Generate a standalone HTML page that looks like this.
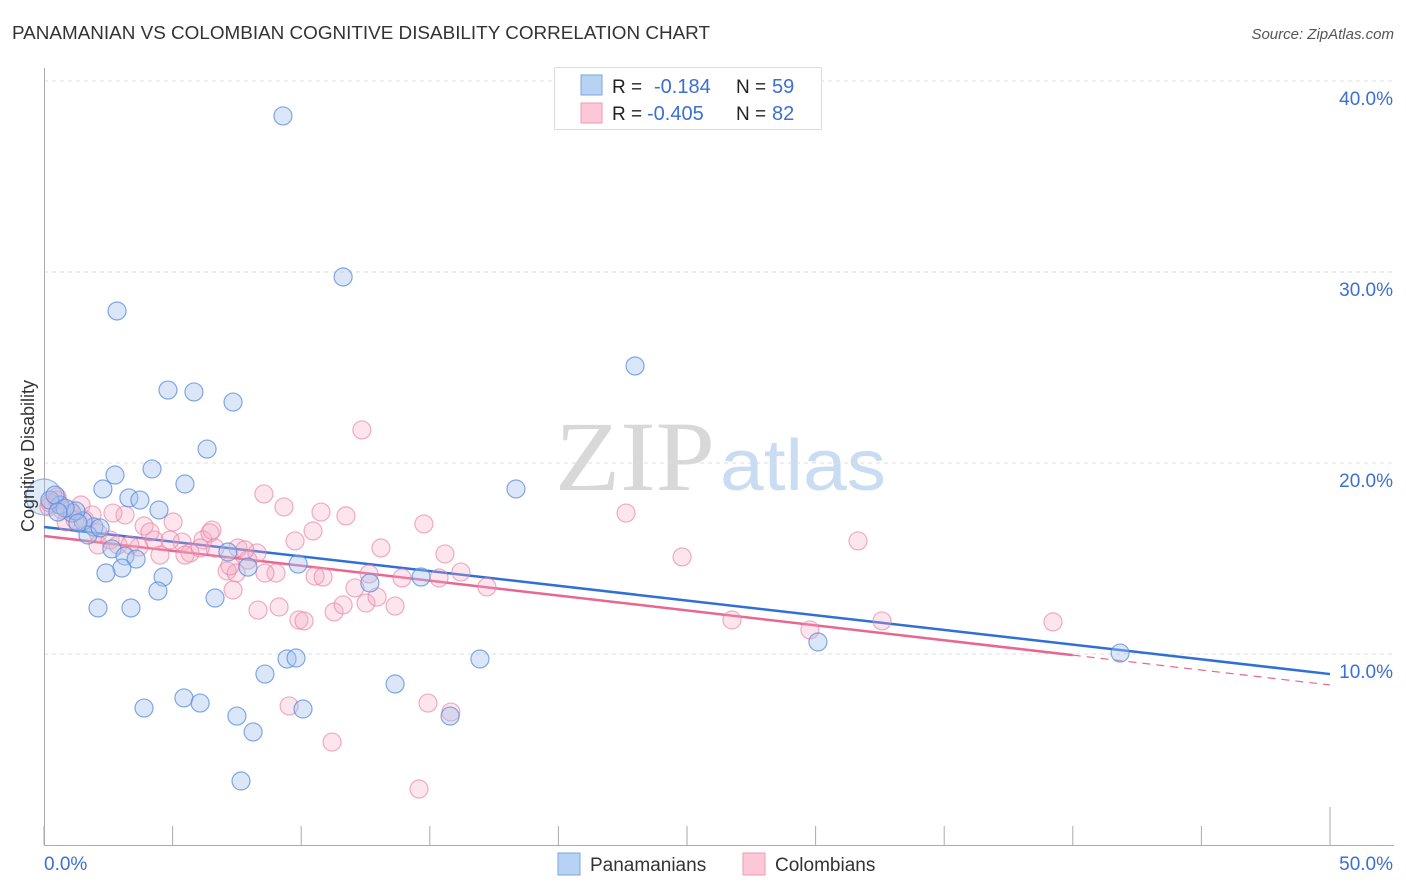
<!DOCTYPE html>
<html><head><meta charset="utf-8"><style>
body{margin:0;background:#fff;font-family:"Liberation Sans",sans-serif}
svg{display:block}
</style></head><body>
<svg id="chart" width="1406" height="892" viewBox="0 0 1406 892" xmlns="http://www.w3.org/2000/svg">
<text x="12" y="39" font-size="18" fill="#333" textLength="698" lengthAdjust="spacingAndGlyphs">PANAMANIAN VS COLOMBIAN COGNITIVE DISABILITY CORRELATION CHART</text>
<text x="1394" y="39" font-size="15" fill="#555" text-anchor="end" font-style="italic">Source: ZipAtlas.com</text>
<g>
<text x="715" y="490" font-size="100" fill="#d8d8d8" text-anchor="end" font-family="Liberation Serif,serif" textLength="160" lengthAdjust="spacingAndGlyphs">ZIP</text>
<text x="720" y="490" font-size="72" fill="#c9dcf2" textLength="166" lengthAdjust="spacingAndGlyphs">atlas</text>
</g>
<g id="grid"></g>
<g id="axes"></g>
<g id="trend"></g>
<g id="pts"></g>
<text transform="translate(34,456) rotate(-90)" font-size="18" fill="#333" text-anchor="middle">Cognitive Disability</text>
<g>
<rect x="554.5" y="67.5" width="267" height="62" fill="#fff" stroke="#ddd"/>
<rect x="581" y="75" width="21" height="20" fill="#b8d2f4" stroke="#7aa6e6"/>
<rect x="581" y="103" width="21" height="20" fill="#fcc8d8" stroke="#f09ab4"/>
<text x="612" y="93" font-size="19" fill="#222">R =</text>
<text x="654" y="93" font-size="20" fill="#3b6fd4">-0.184</text>
<text x="736" y="93" font-size="19" fill="#222">N =</text>
<text x="772" y="93" font-size="20" fill="#3b6fd4">59</text>
<text x="612" y="120" font-size="19" fill="#222">R =</text>
<text x="647" y="120" font-size="20" fill="#3b6fd4">-0.405</text>
<text x="736" y="120" font-size="19" fill="#222">N =</text>
<text x="772" y="120" font-size="20" fill="#3b6fd4">82</text>
</g>
<g>
<rect x="558" y="853" width="22" height="22" fill="#b8d2f4" stroke="#7aa6e6"/>
<text x="590" y="871" font-size="19" fill="#333">Panamanians</text>
<rect x="743" y="853" width="22" height="22" fill="#fcc8d8" stroke="#f09ab4"/>
<text x="775" y="871" font-size="19" fill="#333">Colombians</text>
</g>
</svg>
<script>
const blueX=[9.29,11.63,2.84,22.98,4.82,5.83,7.35,6.34,4.20,2.76,5.48,2.29,3.30,3.73,18.35,4.47,1.94,1.52,1.09,0.62,0.23,0.43,1.71,2.64,3.15,3.58,3.03,2.41,4.63,7.15,4.43,6.65,9.88,7.93,2.10,3.38,12.67,14.66,8.59,9.45,9.80,16.95,13.65,5.44,6.07,3.89,7.50,10.07,8.13,15.79,7.66,30.09,41.84,1.24,0.82,0.54,1.32,2.18];
const blueY=[38.17,29.74,27.96,25.08,23.82,23.72,23.19,20.73,19.69,19.37,18.90,18.64,18.17,18.06,18.64,17.54,16.65,16.96,17.38,17.80,18.06,18.32,16.23,15.50,15.13,14.97,14.50,14.24,14.03,15.34,13.30,12.93,14.71,14.55,12.41,12.41,13.72,14.03,8.95,9.74,9.79,9.74,8.43,7.70,7.43,7.17,6.75,7.12,5.92,6.75,3.35,10.63,10.05,17.49,17.64,17.43,16.86,16.60];
const bigX=[0], bigY=[18.22];
const pinkX=[12.36,8.55,9.33,10.77,11.74,14.77,22.63,1.44,1.01,0.51,0.19,0.86,2.10,3.15,3.89,4.28,5.02,5.37,6.18,6.45,7.54,7.93,8.28,9.76,10.46,13.10,15.59,24.81,31.65,5.68,7.12,7.47,9.02,10.54,10.85,12.64,13.92,15.36,16.21,17.22,7.35,8.32,9.14,9.91,10.11,11.28,11.63,12.09,12.52,12.95,13.65,26.75,29.78,32.58,39.23,9.53,14.93,15.82,11.20,14.58,2.10,2.57,2.88,3.69,4.51,2.68,1.21,1.59,0.51,0.23,5.48,6.65,7.23,6.07,4.90,8.59,3.34,1.87,0.70,7.81,4.12,6.53];
const pinkY=[21.73,18.38,17.70,17.43,17.23,16.81,17.38,17.80,17.54,18.22,17.70,16.91,16.34,17.28,16.70,15.97,16.91,15.86,15.97,16.34,15.55,14.92,15.29,15.92,16.44,15.55,15.24,15.08,15.92,15.29,14.35,14.24,14.24,14.08,14.03,14.19,13.98,13.98,14.29,13.51,13.35,12.30,12.46,11.78,11.73,12.20,12.57,13.46,12.67,12.98,12.51,11.78,11.26,11.73,11.68,7.28,7.43,6.96,5.39,2.93,15.71,15.97,15.71,15.60,15.18,17.38,17.02,17.02,18.06,17.91,15.18,15.55,14.61,15.55,15.97,14.24,15.71,17.28,17.54,15.45,16.39,16.49];
const blueTrend=[16.65,8.95];
const pinkTrend=[16.18,8.38];
const yTicks=[10,20,30,40];
const yTickLabels=["10.0%","20.0%","30.0%","40.0%"];
const xTicks=[0,5,10,15,20,25,30,35,40,45,50];

const NS="http://www.w3.org/2000/svg";
const X=v=>44+v*25.72, Y=v=>845-v*19.1;
function mk(tag,attrs,parent){const e=document.createElementNS(NS,tag);for(const k in attrs)e.setAttribute(k,attrs[k]);parent.appendChild(e);return e;}
const grid=document.getElementById('grid'),axes=document.getElementById('axes'),trend=document.getElementById('trend'),pts=document.getElementById('pts');
yTicks.forEach((t,i)=>{
  const l=mk('line',{x1:44,x2:1394,y1:Y(t),y2:Y(t),stroke:'#ddd','stroke-dasharray':'4,4'},grid);
  
  
  const tx=mk('text',{x:1393,y:Y(t)+24,'font-size':19,fill:'#3b6fd4','text-anchor':'end'},axes);
  tx.textContent=yTickLabels[i];
  
  
});
mk('line',{x1:44.5,x2:44.5,y1:68,y2:845,stroke:'#aaa'},axes);
mk('line',{x1:44,x2:1394,y1:845.5,y2:845.5,stroke:'#aaa'},axes);
xTicks.forEach((t,i)=>{
  const top=(i===xTicks.length-1)?807:826;
  const l=mk('line',{x1:X(t),x2:X(t),y1:top,y2:845,stroke:'#aaa'},axes);
  
  
});
const x0=mk('text',{x:44,y:870,'font-size':19,fill:'#3b6fd4'},axes);x0.textContent='0.0%';


const x1=mk('text',{x:1393,y:870,'font-size':19,fill:'#3b6fd4','text-anchor':'end'},axes);x1.textContent='50.0%';



function drawPts(xs,ys,fill,stroke,r,name){
  xs.forEach((x,i)=>{
    const c=mk('circle',{cx:X(x),cy:Y(ys[i]),r:r,fill:fill,stroke:stroke,'stroke-width':1.2},pts);
    
    
  });
}
drawPts(bigX,bigY,'rgba(164,196,238,0.35)','rgba(106,155,224,0.7)',18,'panamanian-point-large');
drawPts(pinkX,pinkY,'rgba(246,170,194,0.3)','rgba(232,130,165,0.65)',9,'colombian-point');
drawPts(blueX,blueY,'rgba(164,196,238,0.4)','rgba(90,140,220,0.75)',9,'panamanian-point');

const pAt=x=>pinkTrend[0]+(pinkTrend[1]-pinkTrend[0])*x/50;
const bl=mk('line',{x1:X(0),y1:Y(blueTrend[0]),x2:X(50),y2:Y(blueTrend[1]),stroke:'#2f6fd6','stroke-width':2.5},trend);


const pl=mk('line',{x1:X(0),y1:Y(pAt(0)),x2:X(40),y2:Y(pAt(40)),stroke:'#e8668f','stroke-width':2.5},trend);


const pd=mk('line',{x1:X(40),y1:Y(pAt(40)),x2:X(50),y2:Y(pAt(50)),stroke:'#e8668f','stroke-width':1.2,'stroke-dasharray':'8,6'},trend);


</script>
</body></html>
